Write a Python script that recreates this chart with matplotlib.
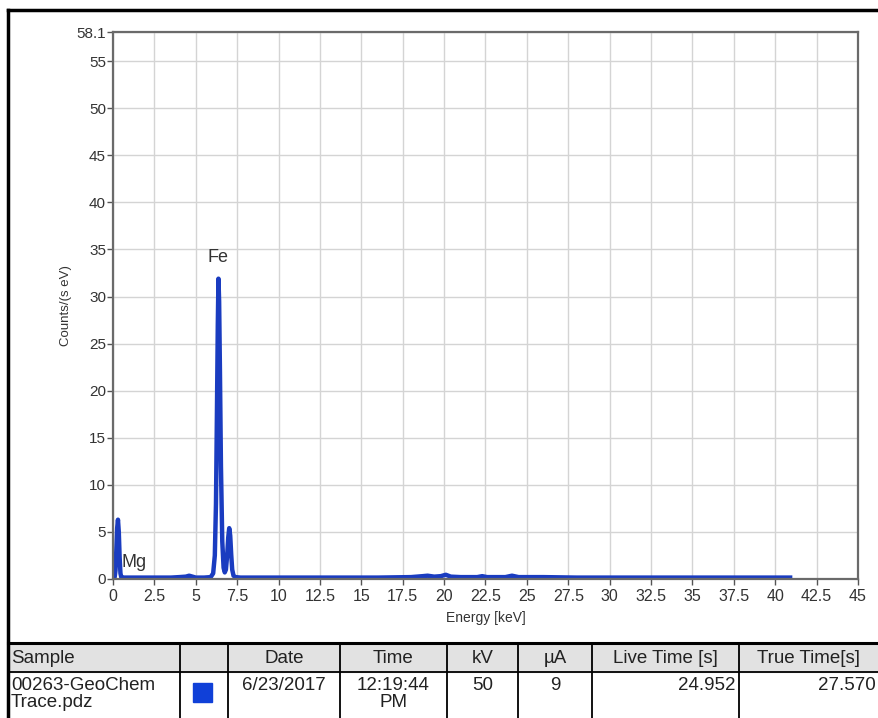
import matplotlib.pyplot as plt
from matplotlib.patches import Rectangle
from matplotlib.lines import Line2D

# spectrum (keV, counts/(s eV))
energy = [0.0, 0.1, 0.15, 0.2, 0.25, 0.3, 0.35, 0.4, 0.45, 0.5, 0.6, 0.8,
          1.0, 1.5, 2.0, 2.5, 3.0, 3.5, 4.0, 4.4, 4.6, 4.8, 5.0, 5.5, 5.9,
          6.05, 6.15, 6.22, 6.28, 6.33, 6.37, 6.41, 6.46, 6.52, 6.6, 6.68,
          6.75, 6.82, 6.9, 6.96, 7.02, 7.08, 7.14, 7.2, 7.28, 7.4, 7.7, 8.0,
          9.0, 10.0, 12.0, 14.0, 16.0, 18.0, 18.7, 19.0, 19.4, 19.8, 20.1,
          20.4, 21.0, 22.0, 22.3, 22.6, 23.7, 24.1, 24.5, 26.0, 28.0, 30.0,
          32.0, 34.0, 36.0, 38.0, 40.0, 40.9]
counts = [0.1, 0.2, 0.9, 3.0, 5.4, 6.3, 5.0, 2.3, 0.6, 0.2, 0.15, 0.15,
          0.15, 0.15, 0.15, 0.15, 0.15, 0.15, 0.2, 0.25, 0.35, 0.25, 0.15, 0.15, 0.2,
          0.6, 2.5, 8.0, 18.0, 27.0, 31.9, 29.5, 22.0, 12.0, 4.0, 1.2,
          0.7, 1.0, 2.6, 4.4, 5.4, 4.6, 2.6, 1.0, 0.35, 0.2, 0.15, 0.15,
          0.15, 0.15, 0.15, 0.15, 0.15, 0.2, 0.3, 0.35, 0.25, 0.3, 0.45,
          0.25, 0.2, 0.2, 0.3, 0.2, 0.2, 0.35, 0.2, 0.2, 0.15, 0.15,
          0.15, 0.15, 0.15, 0.15, 0.15, 0.15]

peak_labels = ['Mg', 'Fe']
peak_pos = [(0.5, 1.8), (6.36, 34.2)]

x_ticks = [0, 2.5, 5, 7.5, 10, 12.5, 15, 17.5, 20, 22.5, 25, 27.5, 30,
           32.5, 35, 37.5, 40, 42.5, 45]
y_ticks = [0, 5, 10, 15, 20, 25, 30, 35, 40, 45, 50, 55, 58.1]

col_labels = ['Sample', '', 'Date', 'Time', 'kV', 'µA', 'Live Time [s]', 'True Time[s]']
row_values = ['00263-GeoChem\nTrace.pdz', '', '6/23/2017', '12:19:44\nPM', '50', '9',
              '24.952', '27.570']
col_px = [8, 180, 228, 340, 447, 518, 592, 739, 879]

W, H = 879, 718
fig = plt.figure(figsize=(W / 100, H / 100), dpi=100)
narrow = ['Liberation Sans Narrow', 'Liberation Sans', 'DejaVu Sans']
sans = ['Liberation Sans', 'DejaVu Sans']

# ------------------------------------------------------------------
#   Spectrum plot
# ------------------------------------------------------------------
ax = fig.add_axes([113 / W, 1 - 579 / H, (858 - 113) / W, (579 - 32) / H])
ax.plot(energy, counts, color='#1a3cc0', lw=3.2, solid_joinstyle='round')
ax.set_xlim(0, 45)
ax.set_ylim(0, 58.1)
ax.set_xticks(x_ticks)
ax.set_xticklabels([('%g' % t) for t in x_ticks], family=narrow, fontsize=11.5,
                   color='#333333')
ax.set_yticks(y_ticks)
ax.set_yticklabels([('%g' % t) for t in y_ticks], family=narrow, fontsize=11,
                   color='#333333')
ax.tick_params(axis='x', direction='out', length=4, width=1, color='#555555', pad=3)
ax.tick_params(axis='y', direction='out', length=4, width=1, color='#555555', pad=1)
ax.grid(True, color='#d4d4d4', lw=1)
ax.set_axisbelow(True)
for s in ax.spines.values():
    s.set_color('#6a6a6a')
    s.set_linewidth(1.6)
ax.set_xlabel('Energy [keV]', family=narrow, fontsize=10, labelpad=5, color='#333333')
ax.set_ylabel('Counts/(s eV)', family=narrow, fontsize=9.5, labelpad=3, color='#333333')

for lab, (px, py) in zip(peak_labels, peak_pos):
    ha = 'left' if lab == 'Mg' else 'center'
    ax.text(px, py, lab, family=narrow, fontsize=13, ha=ha, va='center', color='#333333')

# ------------------------------------------------------------------
#   Sample table underneath
# ------------------------------------------------------------------
top, mid, bot = 643, 672, 740


def fx(px):
    return px / W


def fy(py):
    return 1 - py / H


fig.patches.append(Rectangle((fx(8), fy(mid)), fx(W - 8), fy(top) - fy(mid),
                             transform=fig.transFigure, color='#e2e2e2', zorder=0))
fig.lines.append(Line2D([fx(8), 1], [fy(top), fy(top)], transform=fig.transFigure,
                        color='black', lw=2.2))
fig.lines.append(Line2D([fx(8), 1], [fy(mid), fy(mid)], transform=fig.transFigure,
                        color='black', lw=1.3))
for c in col_px[1:-1]:
    fig.lines.append(Line2D([fx(c), fx(c)], [fy(top), fy(bot)], transform=fig.transFigure,
                            color='black', lw=1.3))

for i, (hd, val) in enumerate(zip(col_labels, row_values)):
    x0, x1 = col_px[i], col_px[i + 1]
    if i == 0:
        hx, ha = x0 + 3, 'left'
    else:
        hx, ha = (x0 + x1) / 2, 'center'
    fig.text(fx(hx), fy((top + mid) / 2 + 1), hd, family=sans, fontsize=13.5,
             ha=ha, va='center', color='#222222')
    if i in (6, 7):
        vx, vha = x1 - 3, 'right'
    else:
        vx, vha = hx, ha
    if i == 1:
        fig.patches.append(Rectangle((fx(193), fy(702)), fx(19), fy(683) - fy(702),
                                     transform=fig.transFigure, color='#1040d8'))
        continue
    fig.text(fx(vx), fy(mid + 5), val, family=sans, fontsize=13.5, ha=vha, va='top',
             color='#222222', linespacing=1.0)

# outer frame
fig.lines.append(Line2D([fx(8), 1], [fy(10), fy(10)], transform=fig.transFigure,
                        color='black', lw=2.5))
fig.lines.append(Line2D([fx(8), fx(8)], [fy(10), 0], transform=fig.transFigure,
                        color='black', lw=2.5))

fig.savefig('out.png', dpi=100)
